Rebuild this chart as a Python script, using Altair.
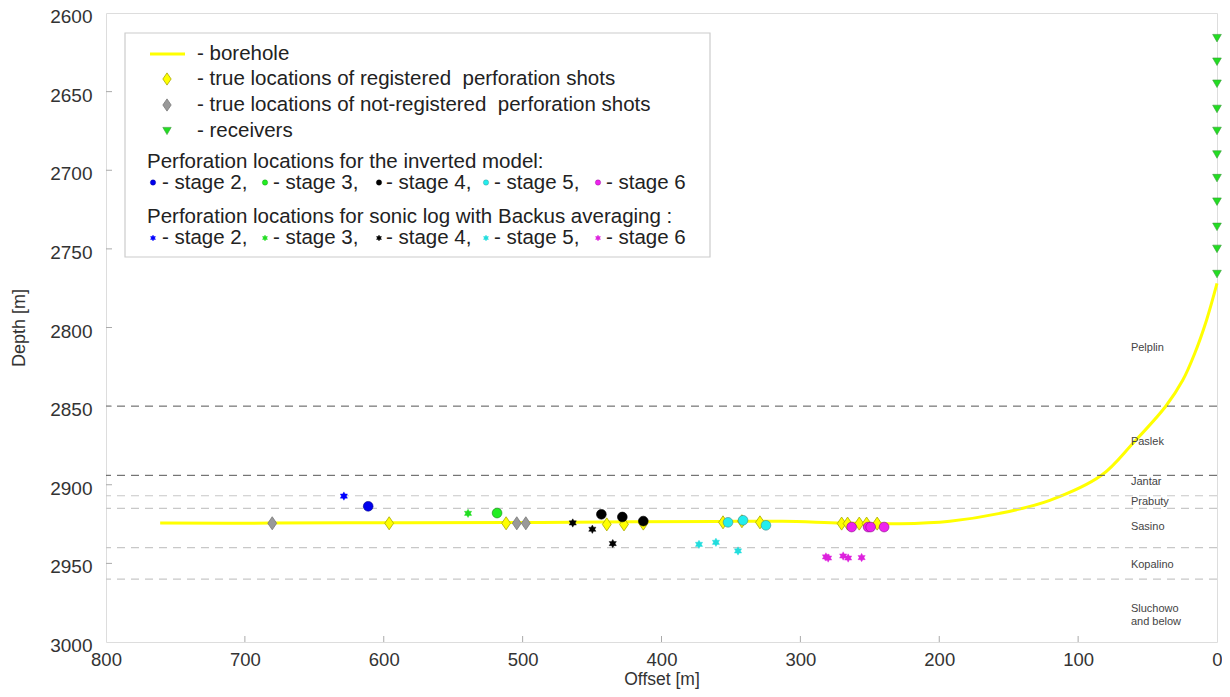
import altair as alt
import pandas as pd

FONT = "Liberation Sans"
TXT = "#333333"

# ---------------- data ----------------
x_ticks = [0, 100, 200, 300, 400, 500, 600, 700, 800]
y_ticks = [2600, 2650, 2700, 2750, 2800, 2850, 2900, 2950, 3000]

borehole_offset = [0, 7.6, 16, 24.7, 36.9, 60.5, 83.2, 120.4, 156.4, 192.4, 228.4, 270, 313, 360, 420, 500, 588, 680, 761]
borehole_depth = [2772, 2795.5, 2816.4, 2833.6, 2850.1, 2873.6, 2894, 2909.9, 2918.2, 2923.2, 2924.8, 2924.3,
                  2923.2, 2923.3, 2923.6, 2924.0, 2924.1, 2924.4, 2924.4]

receiver_offset = [0] * 11
receiver_depth = [2616, 2631, 2645, 2661, 2675, 2690, 2705, 2720, 2736, 2750, 2766]

registered_offset = [596.1, 511.9, 439.4, 427.0, 413.1, 355.7, 342.1, 329.1, 270.3, 266.0, 257.6, 252.3, 244.7]
registered_depth = [2924.5, 2924.5, 2925.2, 2925.2, 2924.7, 2923.9, 2923.2, 2923.9, 2924.7, 2924.7, 2924.7, 2924.7, 2924.7]

notreg_offset = [680.3, 504.2, 497.7]
notreg_depth = [2924.5, 2924.5, 2924.5]

stages = ["stage 2", "stage 3", "stage 4", "stage 5", "stage 6"]

inv_stage = ["stage 2", "stage 3", "stage 4", "stage 4", "stage 4", "stage 5", "stage 5", "stage 5",
             "stage 6", "stage 6", "stage 6", "stage 6"]
inv_offset = [611.2, 518.4, 443.3, 428.2, 413.1, 352.1, 341.3, 324.8, 263.1, 251.2, 249.4, 239.7]
inv_depth = [2913.7, 2918.0, 2918.8, 2920.5, 2923.1, 2923.9, 2922.6, 2925.8, 2926.9, 2926.9, 2926.9, 2926.9]

sonic_stage = ["stage 2", "stage 3", "stage 4", "stage 4", "stage 4", "stage 5", "stage 5", "stage 5",
               "stage 6", "stage 6", "stage 6", "stage 6", "stage 6"]
sonic_offset = [628.7, 539.3, 463.9, 449.8, 435.1, 373.0, 360.8, 344.9, 281.6, 280.0, 269.2, 265.6, 255.9]
sonic_depth = [2907.2, 2918.2, 2924.3, 2928.3, 2937.4, 2937.9, 2936.6, 2942.1, 2945.9, 2946.6, 2945.3, 2946.6, 2946.3]

horizon_depth = [2850, 2894, 2907, 2915, 2940, 2960]
horizon_kind = ["major", "major", "minor", "minor", "minor", "minor"]

formation_name = ["Pelplin", "Paslek", "Jantar", "Prabuty", "Sasino", "Kopalino", "Sluchowo\nand below"]
formation_depth = [2813, 2873, 2898.5, 2911, 2927, 2951, 2978.8]
formation_offset = [62] * len(formation_name)

# ---------------- styles ----------------
inv_fill = ["#0000ee", "#22ee22", "#000000", "#22eeee", "#ee22ee"]
inv_stroke = ["#000088", "#118811", "#000000", "#448888", "#881188"]
sonic_fill = ["#0000ff", "#22dd22", "#000000", "#22dddd", "#dd22dd"]

DIAMOND = "M0,-1L0.68,0L0,1L-0.68,0Z"
STAR = ("M0,-1L0.2887,-0.5L0.866,-0.5L0.577,0L0.866,0.5L0.2887,0.5L0,1"
        "L-0.2887,0.5L-0.866,0.5L-0.577,0L-0.866,-0.5L-0.2887,-0.5Z")

W, H = 1111, 629

xscale = alt.Scale(domain=[0, 800], reverse=True, nice=False, zero=False)
yscale = alt.Scale(domain=[2600, 3000], reverse=True, nice=False, zero=False)

x_axis = alt.Axis(values=x_ticks, title="Offset [m]", ticks=False, domain=False, grid=False, format="d",
                  labelFontSize=18.5, labelFont=FONT, labelColor=TXT, labelPadding=8, labelFlush=False,
                  titleFontSize=17.5, titleFont=FONT, titleColor=TXT, titleFontWeight="normal", titlePadding=2)
y_axis = alt.Axis(values=y_ticks, title="Depth [m]", ticks=False, domain=False, grid=False, format="d",
                  labelFontSize=19, labelFont=FONT, labelColor=TXT, labelPadding=14, labelOffset=3.5,
                  labelFlush=False,
                  titleFontSize=18, titleFont=FONT, titleColor=TXT, titleFontWeight="normal", titlePadding=21)


def X(field):
    return alt.X(field, type="quantitative", scale=xscale, axis=x_axis, title="Offset [m]")


def Y(field):
    return alt.Y(field, type="quantitative", scale=yscale, axis=y_axis, title="Depth [m]")


# ---------------- tables ----------------
bore_df = pd.DataFrame({"offset": borehole_offset, "depth": borehole_depth, "i": range(len(borehole_offset))})
rec_df = pd.DataFrame({"offset": receiver_offset, "depth": receiver_depth})
reg_df = pd.DataFrame({"offset": registered_offset, "depth": registered_depth})
nr_df = pd.DataFrame({"offset": notreg_offset, "depth": notreg_depth})
inv_df = pd.DataFrame({"offset": inv_offset, "depth": inv_depth, "stage": inv_stage})
son_df = pd.DataFrame({"offset": sonic_offset, "depth": sonic_depth, "stage": sonic_stage})
hor_df = pd.DataFrame({"depth": horizon_depth, "kind": horizon_kind})
form_df = pd.DataFrame({"offset": formation_offset, "depth": formation_depth, "name": formation_name})
xt_df = pd.DataFrame({"offset": x_ticks[1:-1]})
yt_df = pd.DataFrame({"depth": y_ticks[1:-1]})

layers = []

# borehole (first, carries the axes)
layers.append(alt.Chart(bore_df).mark_line(color="#ffff00", strokeWidth=3, interpolate="catmull-rom")
              .encode(x=X("offset"), y=Y("depth"), order="i:Q"))

# horizons
layers.append(alt.Chart(hor_df[hor_df.kind == "minor"]).mark_rule(color="#c8c8c8", strokeWidth=1.2, strokeDash=[8, 6])
              .encode(y=Y("depth")))
layers.append(alt.Chart(hor_df[hor_df.kind == "major"]).mark_rule(color="#555555", strokeWidth=1, strokeDash=[8, 6])
              .encode(y=Y("depth")))

# inward ticks
layers.append(alt.Chart(yt_df).mark_rule(color="#aaaaaa", strokeWidth=1)
              .encode(y=Y("depth"), x=alt.value(0), x2=alt.value(6)))
layers.append(alt.Chart(xt_df).mark_rule(color="#aaaaaa", strokeWidth=1)
              .encode(x=X("offset"), y=alt.value(H), y2=alt.value(H - 6)))

# formation labels
layers.append(alt.Chart(form_df).mark_text(align="left", baseline="middle", fontSize=11, font=FONT, color="#444444",
                                           lineBreak="\n", lineHeight=13)
              .encode(x=X("offset"), y=Y("depth"), text="name:N"))

# receivers
layers.append(alt.Chart(rec_df).mark_point(shape="triangle-down", filled=True, size=75, fill="#22dd22",
                                           stroke="#3a9a3a", strokeWidth=0.6, opacity=1)
              .encode(x=X("offset"), y=Y("depth")))

# true perforation locations
layers.append(alt.Chart(nr_df).mark_point(shape=DIAMOND, filled=True, size=170, fill="#999999",
                                          stroke="#777777", strokeWidth=0.8, opacity=1)
              .encode(x=X("offset"), y=Y("depth")))
layers.append(alt.Chart(reg_df).mark_point(shape=DIAMOND, filled=True, size=170, fill="#ffff00",
                                           stroke="#a8a800", strokeWidth=0.8, opacity=1)
              .encode(x=X("offset"), y=Y("depth")))

# sonic (stars) and inverted (dots)
for s, f in zip(stages, sonic_fill):
    layers.append(alt.Chart(son_df[son_df.stage == s]).mark_point(shape=STAR, filled=True, size=70, fill=f,
                                                                   stroke=f, strokeWidth=0.4, opacity=1)
                  .encode(x=X("offset"), y=Y("depth")))
for s, f, st in zip(stages, inv_fill, inv_stroke):
    layers.append(alt.Chart(inv_df[inv_df.stage == s]).mark_point(shape="circle", filled=True, size=95, fill=f,
                                                                   stroke=st, strokeWidth=0.6, opacity=1)
                  .encode(x=X("offset"), y=Y("depth")))

# ---------------- legend ----------------
one = pd.DataFrame({"k": [0]})

layers.append(alt.Chart(one).mark_rect(fill="white", stroke="#cccccc", strokeWidth=1.2)
              .encode(x=alt.value(19), x2=alt.value(604), y=alt.value(20), y2=alt.value(244)))
layers.append(alt.Chart(one).mark_rule(color="#ffff00", strokeWidth=3)
              .encode(x=alt.value(44), x2=alt.value(79), y=alt.value(41)))
layers.append(alt.Chart(one).mark_point(shape=DIAMOND, filled=True, size=150, fill="#ffff00", stroke="#a8a800",
                                        strokeWidth=0.8, opacity=1)
              .encode(x=alt.value(61), y=alt.value(66)))
layers.append(alt.Chart(one).mark_point(shape=DIAMOND, filled=True, size=150, fill="#999999", stroke="#777777",
                                        strokeWidth=0.8, opacity=1)
              .encode(x=alt.value(61), y=alt.value(92)))
layers.append(alt.Chart(one).mark_point(shape="triangle-down", filled=True, size=70, fill="#22dd22",
                                        stroke="#3a9a3a", strokeWidth=0.6, opacity=1)
              .encode(x=alt.value(61), y=alt.value(118)))


def legend_text(txt, x, y):
    return (alt.Chart(one).mark_text(align="left", baseline="middle", fontSize=20.5, font=FONT, color="#222222")
            .encode(x=alt.value(x), y=alt.value(y), text=alt.value(txt)))


layers.append(legend_text("- borehole", 91, 41))
layers.append(legend_text("- true locations of registered\u00a0 perforation shots", 91, 66))
layers.append(legend_text("- true locations of not-registered\u00a0 perforation shots", 91, 92))
layers.append(legend_text("- receivers", 91, 118))
layers.append(legend_text("Perforation locations for the inverted model:", 41, 148.5))
layers.append(legend_text("Perforation locations for sonic log with Backus averaging :", 41, 204))

sym_x = [47, 159, 273, 380, 492]
txt_x = [56, 167, 280, 388, 500]
for i, s in enumerate(stages):
    label = "- " + s + ("," if i < len(stages) - 1 else "")
    layers.append(alt.Chart(one).mark_point(shape="circle", filled=True, size=28, fill=inv_fill[i],
                                            stroke=inv_stroke[i], strokeWidth=0.4, opacity=1)
                  .encode(x=alt.value(sym_x[i]), y=alt.value(169.5)))
    layers.append(legend_text(label, txt_x[i], 169.5))
    layers.append(alt.Chart(one).mark_point(shape=STAR, filled=True, size=34, fill=sonic_fill[i],
                                            stroke=sonic_fill[i], strokeWidth=0.4, opacity=1)
                  .encode(x=alt.value(sym_x[i]), y=alt.value(225)))
    layers.append(legend_text(label, txt_x[i], 225))

chart = (alt.layer(*layers)
         .properties(width=W, height=H, autosize=alt.AutoSizeParams(type="none"),
                     padding={"left": 98, "top": 5, "right": 5, "bottom": 47})
         .configure_view(stroke="#c4c4c4", strokeWidth=1.2)
         .configure(background="white"))

chart.save("out.html", embed_options={"renderer": "svg", "actions": False})
